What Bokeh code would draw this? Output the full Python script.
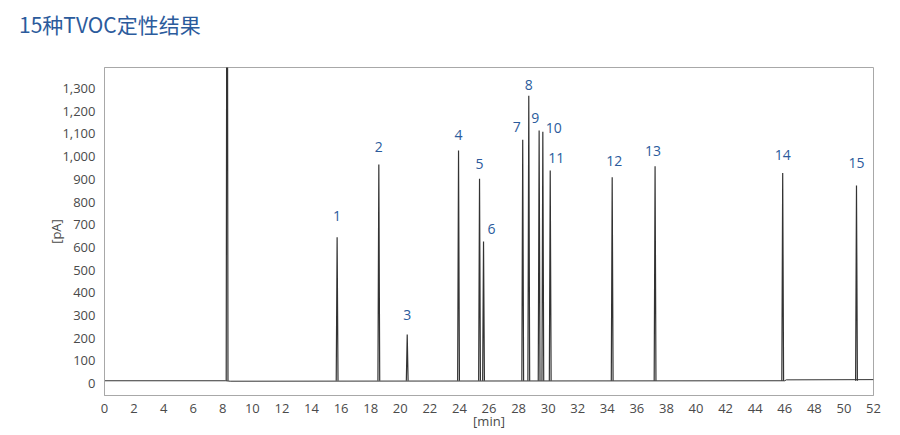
from bokeh.plotting import figure
from bokeh.models import ColumnDataSource, NumeralTickFormatter, FixedTicker, Range1d, Div
from bokeh.layouts import column
from bokeh.core.properties import value
from bokeh.embed import file_html
from bokeh.resources import INLINE

# ---- data ----
title_text = "15种TVOC定性结果"
peak_labels = ["1", "2", "3", "4", "5", "6", "7", "8", "9", "10", "11", "12", "13", "14", "15"]
peak_times = [15.73, 18.55, 20.47, 23.94, 25.36, 25.63, 28.28, 28.69, 29.39, 29.64, 30.14, 34.33, 37.23, 45.86, 50.85]
peak_heights = [645, 965, 216, 1027, 902, 626, 1075, 1269, 1115, 1110, 939, 909, 958, 928, 873]
solvent_time = [8.29]
solvent_height = [3000]
baseline_t = [0, 8.2, 8.5, 46.0, 46.1, 52]
baseline_pA = [12, 12, 10, 12, 16, 17]
x_ticks = list(range(0, 53, 2))
y_ticks = list(range(0, 1301, 100))

# label nudges (screen px) so numbers sit beside crowded peaks
label_dx = [0, 0, 0, 0, 0, 8, -6, 0, -4, 11, 6, 2, -2, 0, 0]
label_dy = [21, 18, 19, 16, 15, 12, 13, 11, 13, 4, 12, 16, 15, 18, 22]

BLUE = "#2b5b9c"
GRAY = "#4a4a4a"
FRAME = "#a8a8a8"
HALF_W = 0.06

head = Div(text=title_text, width=884, height=40,
           styles={"font-family": "Noto Sans CJK SC", "font-size": "21px",
                   "color": BLUE, "padding-left": "14px", "padding-top": "5px",
                   "line-height": "1.4"})

p = figure(width=884, height=382, output_backend="svg", toolbar_location=None,
           x_range=Range1d(0, 52), y_range=Range1d(-53, 1393),
           min_border_left=104, min_border_right=11, min_border_top=17,
           min_border_bottom=10)

p.outline_line_color = FRAME
p.outline_line_width = 1
p.grid.visible = False
p.background_fill_color = "white"
p.border_fill_color = "white"

# baseline
p.line(baseline_t, baseline_pA, line_color="#333333", line_width=1)

# peaks as narrow triangles
xs, ys = [], []
for t, h in zip(solvent_time + peak_times, solvent_height + peak_heights):
    xs.append([t - HALF_W, t, t + HALF_W])
    ys.append([12, h, 12])
p.multi_line(xs, ys, line_color="#333333", line_width=1.2)

src = ColumnDataSource(dict(x=peak_times, y=peak_heights, t=peak_labels,
                            dx=label_dx, dy=[-d for d in label_dy]))
p.text(x="x", y="y", text="t", x_offset="dx", y_offset="dy", source=src,
       text_font=value("Open Sans"), text_font_size="14px", text_color=BLUE,
       text_align="center", text_baseline="middle")

for ax in (p.xaxis[0], p.yaxis[0]):
    ax.axis_line_color = FRAME
    ax.major_tick_line_color = None
    ax.minor_tick_line_color = None
    ax.major_label_text_font = "Open Sans"
    ax.major_label_text_font_size = "13px"
    ax.major_label_text_color = GRAY
    ax.axis_label_text_font = "Open Sans"
    ax.axis_label_text_font_size = "13px"
    ax.axis_label_text_font_style = "normal"
    ax.axis_label_text_color = GRAY

p.xaxis.ticker = FixedTicker(ticks=x_ticks)
p.yaxis.ticker = FixedTicker(ticks=y_ticks)
p.yaxis.formatter = NumeralTickFormatter(format="0,0")
p.xaxis.axis_label = "[min]"
p.yaxis.axis_label = "[pA]"
p.xaxis.major_label_standoff = 2
p.yaxis.major_label_standoff = 3
p.xaxis.axis_label_standoff = -4
p.yaxis.axis_label_standoff = -6

layout = column(head, p, spacing=0)
open("out.html", "w").write(file_html(layout, INLINE))
